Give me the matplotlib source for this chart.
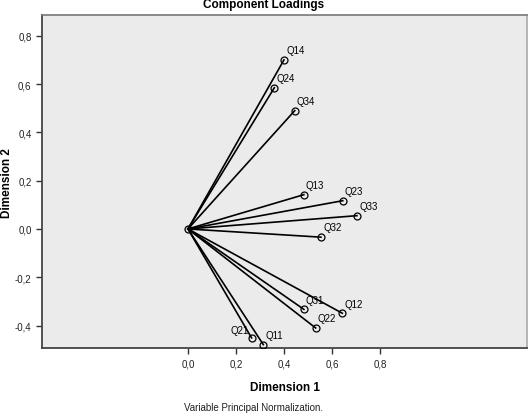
import matplotlib
matplotlib.use('Agg')
import matplotlib.pyplot as plt

plt.rcParams['font.family'] = ['Liberation Sans', 'DejaVu Sans']

# component loadings
variables = ['Q14', 'Q24', 'Q34', 'Q13', 'Q23', 'Q33', 'Q32',
             'Q31', 'Q12', 'Q22', 'Q21', 'Q11']
dim1 = [0.40, 0.36, 0.445, 0.483, 0.645, 0.704, 0.554,
        0.483, 0.643, 0.532, 0.265, 0.314]
dim2 = [0.70, 0.585, 0.49, 0.142, 0.117, 0.055, -0.034,
        -0.333, -0.349, -0.41, -0.451, -0.479]

x_ticks = [0.0, 0.2, 0.4, 0.6, 0.8]
y_ticks = [-0.4, -0.2, 0.0, 0.2, 0.4, 0.6, 0.8]

fig = plt.figure(figsize=(5.28, 4.14), dpi=100)
ax = fig.add_axes([42 / 528, 1 - 349 / 414, 485 / 528, 333 / 414])
ax.set_facecolor('#EBEBEB')

for x, y in zip(dim1, dim2):
    ax.plot([0, x], [0, y], color='black', linewidth=1.2, zorder=2)
ax.plot(dim1, dim2, linestyle='none', marker='o', markersize=5,
        markerfacecolor='none', markeredgecolor='black', markeredgewidth=0.9, zorder=3)
ax.plot([0], [0], linestyle='none', marker='o', markersize=5,
        markerfacecolor='none', markeredgecolor='black', markeredgewidth=0.9, zorder=3)

for name, x, y in zip(variables, dim1, dim2):
    if name == 'Q21':
        ax.annotate(name, (x, y), xytext=(-2, 6), textcoords='offset points',
                    ha='right', va='center', fontsize=7)
    else:
        ax.annotate(name, (x, y), xytext=(1.5, 7), textcoords='offset points',
                    ha='left', va='center', fontsize=7)

ax.set_xlim(-0.608, 1.4125)
ax.set_ylim(-0.493, 0.886)
ax.set_xticks(x_ticks)
ax.set_yticks(y_ticks)
ax.set_xticklabels([f'{t:.1f}'.replace('.', ',') for t in x_ticks])
ax.set_yticklabels([f'{t:.1f}'.replace('.', ',') for t in y_ticks])
ax.tick_params(direction='out', length=4, width=1, colors='#333333',
               labelsize=7, labelcolor='#222222')

for side in ['left', 'bottom']:
    ax.spines[side].set_color('#444444')
    ax.spines[side].set_linewidth(1.3)
ax.spines['top'].set_color('#777777')
ax.spines['top'].set_linewidth(1.2)
ax.spines['right'].set_color('#AAAAAA')
ax.spines['right'].set_linewidth(1.2)

ax.set_xlabel('Dimension 1', fontsize=8.5, fontweight='bold', labelpad=9)
fig.text(7 / 528, 1 - 183 / 414, 'Dimension 2', rotation=90, ha='center', va='center',
         fontsize=8.5, fontweight='bold')
fig.text(0.5, 1 - 5 / 414, 'Component Loadings', ha='center', va='center',
         fontsize=8.5, fontweight='bold')
fig.text(254 / 528, 1 - 408 / 414, 'Variable Principal Normalization.',
         ha='center', va='center', fontsize=7, color='#222222')

fig.savefig('out.png', dpi=100)
